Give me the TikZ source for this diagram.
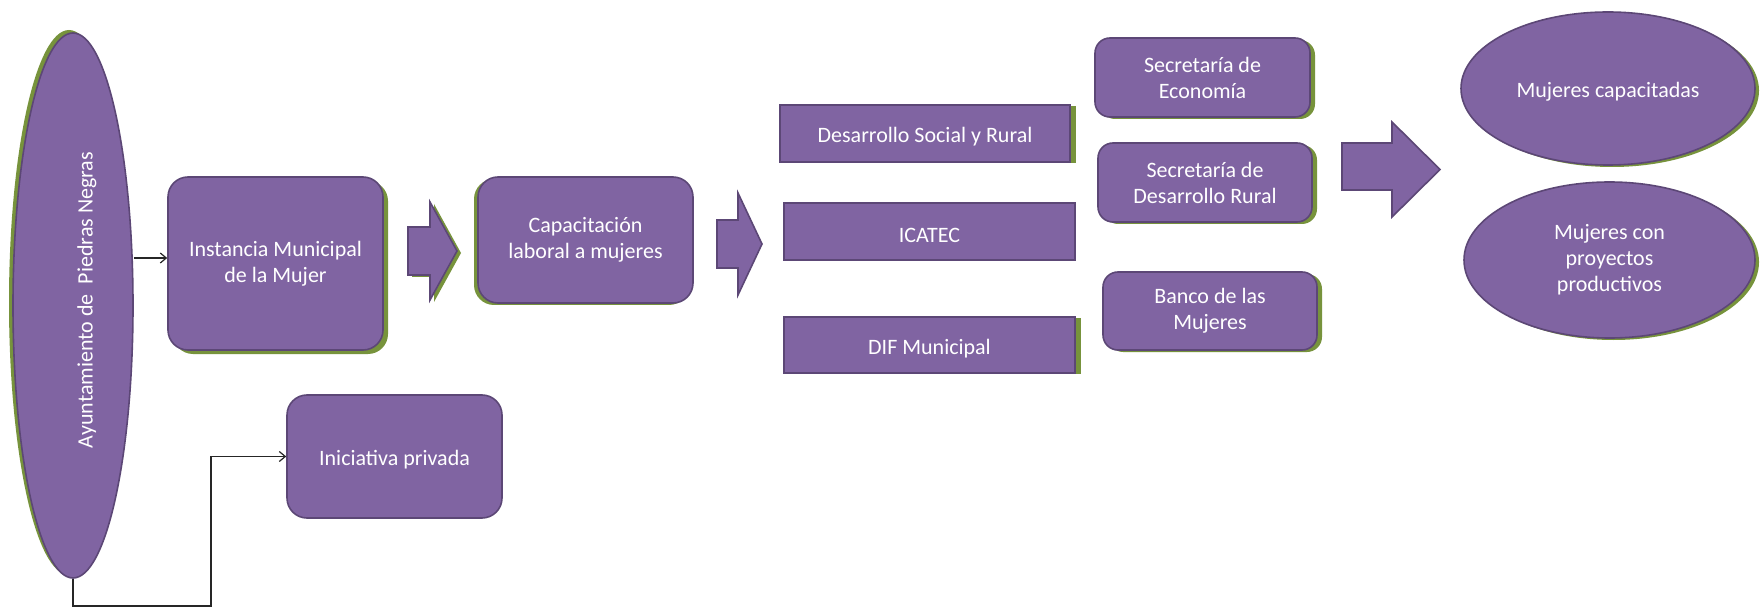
\documentclass[tikz,border=0pt]{standalone}
\usepackage{fontspec}
\setmainfont{Carlito}
\usetikzlibrary{shapes.geometric,arrows.meta,shadows}
\definecolor{pfill}{HTML}{8064A2}
\definecolor{pdraw}{HTML}{5C4776}
\definecolor{shgreen}{HTML}{77933C}
\begin{document}
\begin{tikzpicture}[x=1pt,y=-1pt,
  every node/.style={font=\fontsize{22}{26}\selectfont, text=white, align=center},
  lowered/.style={execute at begin node={\rule{0pt}{22pt}}},
  box/.style={rectangle, draw=pdraw, line width=1.6pt, fill=pfill, rounded corners=20pt, inner sep=0pt, lowered},
  sqbox/.style={rectangle, draw=pdraw, line width=1.6pt, fill=pfill, inner sep=0pt, lowered},
  oval/.style={ellipse, draw=pdraw, line width=1.6pt, fill=pfill, inner sep=0pt, lowered},
  gsh/.style 2 args={drop shadow={shadow xshift=#1pt, shadow yshift=#2pt, fill=shgreen, opacity=1, draw=none}},
  conn/.style={draw=black!85, line width=1.2pt, -{Straight Barb[length=6pt,width=10pt]}},
  barrow/.style={draw=pdraw, line width=1.6pt, fill=pfill, line join=miter},
]
\useasboundingbox (0,0) rectangle (1760,609);
\fill[white] (0,0) rectangle (1760,609);

% left ellipse
\node[oval, gsh={-4}{3}, minimum width=120, minimum height=545] (ayunt) at (73,305.5) {};
\node[rotate=90] (ayunttxt) at (87,300) {Ayuntamiento de\ \ Piedras Negras};

% boxes
\node[box, gsh={5}{-4}, minimum width=215, minimum height=173] (inst) at (275.5,263.5) {Instancia Municipal\\de la Mujer};
\node[box, gsh={-4}{-2}, minimum width=215, minimum height=126] (cap) at (585.5,240) {Capacitación\\laboral a mujeres};
\node[box, minimum width=215, minimum height=123] (inic) at (394.5,456.5) {Iniciativa privada};

\node[sqbox, gsh={6}{-1}, minimum width=290, minimum height=57] (dsr) at (925,133.5) {Desarrollo Social y Rural};
\node[sqbox, minimum width=291, minimum height=57] (icatec) at (929.5,231.5) {ICATEC};
\node[sqbox, gsh={6}{-1}, minimum width=291, minimum height=56] (dif) at (929.5,345) {DIF Municipal};

\node[box, rounded corners=15pt, gsh={5}{-2}, minimum width=215, minimum height=79] (seco) at (1202.5,77.5) {Secretaría de\\Economía};
\node[box, rounded corners=15pt, gsh={5}{-2}, minimum width=214, minimum height=79] (sdr) at (1205,182.5) {Secretaría de\\Desarrollo Rural};
\node[box, rounded corners=15pt, gsh={5}{-2}, minimum width=214, minimum height=78] (banco) at (1210,311) {Banco de las\\Mujeres};

\node[oval, gsh={4}{-2}, minimum width=294, minimum height=153] (mcap) at (1608,88.5) {Mujeres capacitadas};
\node[oval, gsh={4}{-2}, minimum width=291, minimum height=156] (mpro) at (1609.5,260) {Mujeres con\\proyectos\\productivos};

% block arrows
\fill[shgreen, shift={(4,2)}] (408,227) -- (430,227) -- (430,202) -- (457,251) -- (430,300) -- (430,275) -- (408,275) -- cycle;
\path[barrow] (408,227) -- (430,227) -- (430,202) -- (457,251) -- (430,300) -- (430,275) -- (408,275) -- cycle;
\path[barrow] (717,220) -- (738,220) -- (738,193) -- (762,244) -- (738,295) -- (738,268) -- (717,268) -- cycle;
\path[barrow] (1342,143) -- (1392,143) -- (1392,122) -- (1440,169.5) -- (1392,217) -- (1392,190) -- (1342,190) -- cycle;

% connectors
\coordinate (a1) at (0,258);
\coordinate (c1) at (211,606);
\draw[conn] (ayunt.east |- a1) -- (inst.west |- a1);
\draw[conn] (ayunt.south) |- (c1) |- (inic.west);
\end{tikzpicture}
\end{document}
